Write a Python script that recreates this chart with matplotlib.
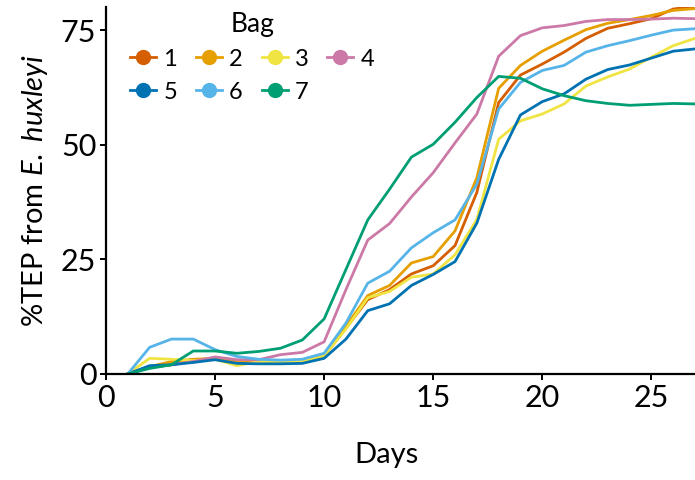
import matplotlib
matplotlib.use('Agg')
import matplotlib.pyplot as plt
from matplotlib.lines import Line2D

plt.rcParams['font.family'] = ['Lato', 'DejaVu Sans']
plt.rcParams['mathtext.fontset'] = 'custom'
plt.rcParams['mathtext.it'] = 'Lato:italic'
plt.rcParams['mathtext.rm'] = 'Lato'

days = list(range(1, 28))

bag1 = [0, 1.4, 2.0, 2.9, 3.4, 2.7, 2.4, 2.4, 2.5, 3.9, 10.0, 16.2, 18.4, 21.8, 23.6, 28.0,
        39.6, 59.2, 65.2, 67.6, 70.2, 73.2, 75.4, 76.4, 77.5, 79.6, 80.2]
bag2 = [0, 1.6, 2.7, 3.2, 3.4, 2.7, 2.5, 2.5, 2.5, 4.1, 10.4, 17.1, 19.3, 24.2, 25.6, 31.2,
        42.8, 62.3, 67.3, 70.4, 72.8, 75.1, 76.5, 77.3, 78.2, 79.3, 79.7]
bag3 = [0, 3.4, 3.2, 2.9, 3.2, 1.8, 2.7, 2.7, 2.7, 3.9, 9.8, 16.6, 18.0, 21.1, 21.8, 26.0,
        33.7, 51.2, 55.2, 56.7, 58.9, 62.8, 64.8, 66.5, 69.1, 71.6, 73.2]
bag4 = [0, 1.4, 2.0, 2.7, 3.7, 3.1, 3.1, 4.2, 4.7, 7.0, 18.4, 29.2, 32.8, 38.6, 43.9, 50.4,
        56.7, 69.3, 73.8, 75.5, 76.0, 76.9, 77.3, 77.3, 77.4, 77.6, 77.5]
bag5 = [0, 1.8, 2.0, 2.5, 3.1, 2.3, 2.2, 2.2, 2.3, 3.4, 7.6, 13.8, 15.3, 19.3, 21.7, 24.5,
        32.9, 46.8, 56.5, 59.4, 61.1, 64.3, 66.4, 67.4, 68.9, 70.4, 70.9]
bag6 = [0, 5.8, 7.6, 7.6, 5.3, 3.8, 3.2, 3.0, 3.2, 4.5, 11.1, 19.8, 22.4, 27.5, 30.8, 33.6,
        41.4, 57.8, 63.6, 66.2, 67.3, 70.2, 71.6, 72.7, 73.9, 75.0, 75.3]
bag7 = [0, 1.2, 2.0, 5.0, 5.0, 4.5, 4.9, 5.6, 7.4, 12.0, 22.8, 33.6, 40.3, 47.3, 50.1, 54.9,
        60.3, 64.9, 64.5, 62.2, 60.7, 59.6, 59.0, 58.6, 58.8, 59.0, 58.9]

bags = ['1', '2', '3', '4', '5', '6', '7']
series = [bag1, bag2, bag3, bag4, bag5, bag6, bag7]
colors = ['#D55E00', '#E69F00', '#F0E442', '#CC79A7', '#0072B2', '#56B4E9', '#009E73']

fig = plt.figure(figsize=(6.95, 4.8), dpi=100)
ax = fig.add_axes([0.1525, 0.221, 0.8475, 0.764])

for vals, c in zip(series, colors):
    ax.plot(days, vals, color=c, lw=2.0)

ax.set_xlim(0, 27)
ax.set_ylim(0, 80)
ax.set_xticks([0, 5, 10, 15, 20, 25])
ax.set_yticks([0, 25, 50, 75])
ax.spines['top'].set_visible(False)
ax.spines['right'].set_visible(False)
for s in ['left', 'bottom']:
    ax.spines[s].set_linewidth(1.6)
ax.tick_params(direction='out', length=4, width=1.4, labelsize=22, pad=3)

ax.set_xlabel('Days', fontsize=21, labelpad=22)
ax.set_ylabel(r'%TEP from $E.\ huxleyi$', fontsize=21, labelpad=8)
ax.xaxis.label.set_x(0.476)

# legend filled row by row: 1 2 3 4 / 5 6 7
order = [0, 4, 1, 5, 2, 6, 3]
handles = [Line2D([0], [0], color=colors[i], lw=2.0, marker='o', markersize=10) for i in order]
labels = [bags[i] for i in order]
leg = ax.legend(handles, labels, title='Bag', ncol=4, loc='upper left',
                bbox_to_anchor=(0.005, 1.045), frameon=False, fontsize=17,
                title_fontsize=19, handlelength=1.1, handletextpad=0.3,
                columnspacing=0.8, labelspacing=0.5)

fig.savefig('out.png', dpi=100)
